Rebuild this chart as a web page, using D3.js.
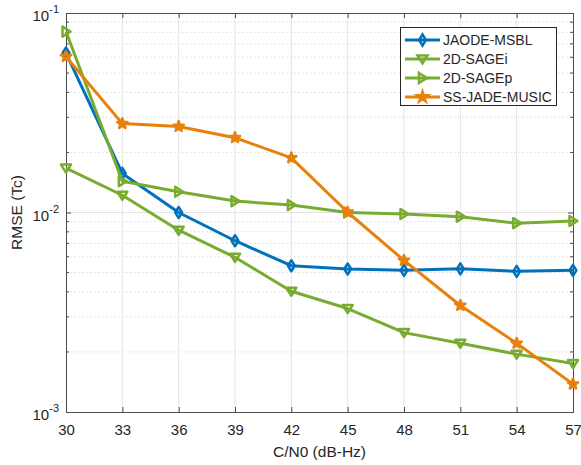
<!DOCTYPE html>
<html>
<head>
<meta charset="utf-8">
<script src="https://cdn.jsdelivr.net/npm/d3@7"></script>
<style>
  body { margin: 0; background: #fff; }
  text { font-family: "Liberation Sans", Arial, sans-serif; fill: #262626; }
</style>
</head>
<body>
<svg width="581" height="465"></svg>
<script>
var svg = d3.select("svg");

// x values (C/N0, dB-Hz)
var cn0 = [30, 33, 36, 39, 42, 45, 48, 51, 54, 57];

// RMSE values per method
var jaodeMsbl = [0.0630, 0.0157, 0.0100, 0.00722, 0.00541, 0.00521, 0.00513, 0.00522, 0.00507, 0.00513];
var sageI = [0.0167, 0.0122, 0.00815, 0.00596, 0.00403, 0.00330, 0.00250, 0.00221, 0.00195, 0.00175];
var sageP = [0.0807, 0.01435, 0.0127, 0.01141, 0.0109, 0.0100, 0.00983, 0.00953, 0.00884, 0.00907];
var ssJade = [0.0604, 0.0279, 0.0270, 0.0237, 0.0188, 0.01003, 0.00575, 0.00342, 0.00221, 0.00138];

var seriesNames = ["JAODE-MSBL", "2D-SAGEi", "2D-SAGEp", "SS-JADE-MUSIC"];
var yDecades = [-3, -2, -1];

var series = [
  {name: seriesNames[0], values: jaodeMsbl, color: "#0072BD", marker: "diamond"},
  {name: seriesNames[1], values: sageI, color: "#77AC30", marker: "down"},
  {name: seriesNames[2], values: sageP, color: "#77AC30", marker: "right"},
  {name: seriesNames[3], values: ssJade, color: "#E8800C", marker: "star"}
];

var pLeft = 66, pRight = 573, pTop = 13, pBottom = 412;

var x = d3.scaleLinear().domain([30, 57]).range([pLeft, pRight]);
var y = d3.scaleLog().domain([1e-3, 1e-1]).range([pBottom, pTop]);

// minor values
var minors = [];
[1e-3, 1e-2].forEach(function(b) {
  for (var k = 2; k <= 9; k++) minors.push(b * k);
});

// grid
var grid = svg.append("g");
grid.selectAll(".minor")
  .data(minors)
  .enter().append("line")
  .attr("x1", pLeft).attr("x2", pRight)
  .attr("y1", function(d) { return y(d); })
  .attr("y2", function(d) { return y(d); })
  .attr("stroke", "#d9d9d9")
  .attr("stroke-width", 1)
  .attr("stroke-dasharray", "1.5,2.5");

grid.selectAll(".vx")
  .data(cn0.slice(1, -1))
  .enter().append("line")
  .attr("x1", function(d) { return x(d); })
  .attr("x2", function(d) { return x(d); })
  .attr("y1", pTop).attr("y2", pBottom)
  .attr("stroke", "#e3e3e3");

grid.append("line")
  .attr("x1", pLeft).attr("x2", pRight)
  .attr("y1", y(1e-2)).attr("y2", y(1e-2))
  .attr("stroke", "#e3e3e3");

// axes (MATLAB-like box with inward ticks)
var axCol = "#4d4d4d";
svg.append("g")
  .attr("transform", "translate(0," + pBottom + ")")
  .call(d3.axisBottom(x).tickValues(cn0).tickSize(-5).tickPadding(12).tickFormat(d3.format("d")))
  .call(function(g) {
    g.select(".domain").attr("stroke", axCol);
    g.selectAll(".tick line").attr("stroke", axCol);
    g.selectAll("text").attr("font-size", 15).attr("fill", "#262626").attr("font-family", "Liberation Sans, Arial, sans-serif");
  });

svg.append("g")
  .attr("transform", "translate(0," + pTop + ")")
  .call(d3.axisTop(x).tickValues(cn0).tickSize(-5).tickFormat(""))
  .call(function(g) {
    g.select(".domain").attr("stroke", axCol);
    g.selectAll(".tick line").attr("stroke", axCol);
  });

svg.append("g")
  .attr("transform", "translate(" + pLeft + ",0)")
  .call(d3.axisLeft(y).tickValues(yDecades.map(function(e) { return Math.pow(10, e); })).tickSize(-5).tickFormat(""))
  .call(function(g) {
    g.select(".domain").attr("stroke", axCol);
    g.selectAll(".tick line").attr("stroke", axCol);
  });

svg.append("g")
  .attr("transform", "translate(" + pRight + ",0)")
  .call(d3.axisRight(y).tickValues(yDecades.map(function(e) { return Math.pow(10, e); })).tickSize(-5).tickFormat(""))
  .call(function(g) {
    g.select(".domain").attr("stroke", axCol);
    g.selectAll(".tick line").attr("stroke", axCol);
  });

// minor y ticks
[pLeft, pRight].forEach(function(px) {
  var dir = px === pLeft ? 1 : -1;
  svg.append("g").selectAll("line")
    .data(minors)
    .enter().append("line")
    .attr("x1", px).attr("x2", px + dir * 3)
    .attr("y1", function(d) { return y(d); })
    .attr("y2", function(d) { return y(d); })
    .attr("stroke", axCol);
});

// y tick labels with superscripts
yDecades.forEach(function(e) {
  var t = svg.append("text")
    .attr("x", pLeft - 7)
    .attr("y", y(Math.pow(10, e)) + 8)
    .attr("text-anchor", "end")
    .attr("font-size", 15);
  t.append("tspan").text("10");
  t.append("tspan").attr("dy", -8).attr("font-size", 11).text(String(e));
});

// axis titles
svg.append("text")
  .attr("x", (pLeft + pRight) / 2)
  .attr("y", 457)
  .attr("text-anchor", "middle")
  .attr("font-size", 15.5)
  .text("C/N0 (dB-Hz)");

svg.append("text")
  .attr("transform", "translate(22," + ((pTop + pBottom) / 2) + ") rotate(-90)")
  .attr("text-anchor", "middle")
  .attr("font-size", 15.5)
  .text("RMSE (Tc)");

// marker generator
function markerPath(kind) {
  if (kind === "diamond") return "M0,-5.5L3.4,0L0,5.5L-3.4,0Z";
  if (kind === "down") return "M-5,-3.5L5,-3.5L0,4.5Z";
  if (kind === "right") return "M-3.5,-5L4.5,0L-3.5,5Z";
  return d3.symbol().type(d3.symbolStar).size(32)();
}

var line = d3.line()
  .x(function(d, i) { return x(cn0[i]); })
  .y(function(d) { return y(d); });

series.forEach(function(s) {
  var g = svg.append("g");
  g.append("path")
    .attr("d", line(s.values))
    .attr("fill", "none")
    .attr("stroke", s.color)
    .attr("stroke-width", 3)
    .attr("stroke-linejoin", "round");
  g.selectAll("path.m")
    .data(s.values)
    .enter().append("path")
    .attr("class", "m")
    .attr("transform", function(d, i) { return "translate(" + x(cn0[i]) + "," + y(d) + ")"; })
    .attr("d", markerPath(s.marker))
    .attr("fill", "none")
    .attr("stroke", s.color)
    .attr("stroke-width", 2.5)
    .attr("stroke-linejoin", "round");
});

// legend
var lg = svg.append("g");
lg.append("rect")
  .attr("x", 400.5).attr("y", 27.5)
  .attr("width", 156).attr("height", 78)
  .attr("fill", "#fff")
  .attr("stroke", "#262626")
  .attr("stroke-width", 1);

series.forEach(function(s, i) {
  var ly = 40 + i * 19;
  lg.append("line")
    .attr("x1", 405).attr("x2", 440)
    .attr("y1", ly).attr("y2", ly)
    .attr("stroke", s.color)
    .attr("stroke-width", 3);
  lg.append("path")
    .attr("transform", "translate(422.5," + ly + ")")
    .attr("d", markerPath(s.marker))
    .attr("fill", "none")
    .attr("stroke", s.color)
    .attr("stroke-width", 2.5);
  lg.append("text")
    .attr("x", 443)
    .attr("y", ly + 5)
    .attr("font-size", 14)
    .text(s.name);
});
</script>
</body>
</html>
